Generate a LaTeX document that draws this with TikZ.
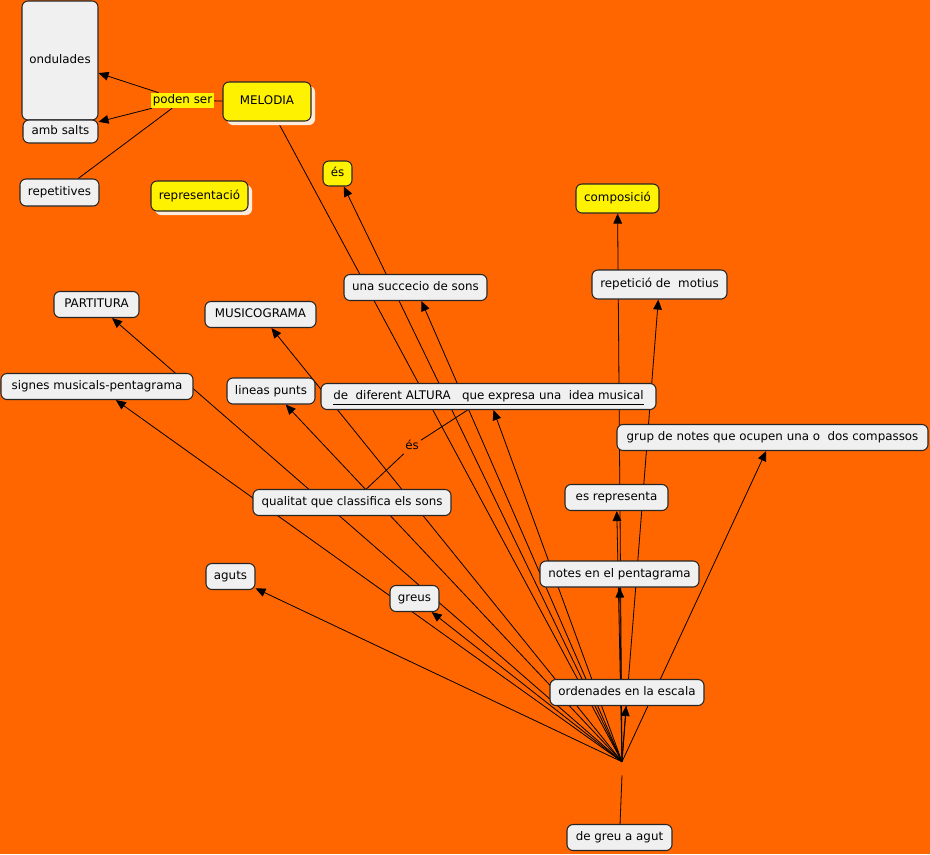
\documentclass[tikz,border=0pt]{standalone}
\usepackage{fontspec}
\setmainfont{DejaVu Sans}
\usetikzlibrary{arrows.meta, shadows}
\definecolor{mapbg}{HTML}{FF6600}
\definecolor{conceptfill}{HTML}{F0F0F0}
\definecolor{shadecol}{HTML}{FFEBDC}
\pgfdeclarelayer{bg}
\pgfdeclarelayer{links}
\pgfsetlayers{bg,links,main}

\begin{document}
\begin{tikzpicture}[x=0.75pt, y=-0.75pt,
    every node/.style={font=\fontsize{8.9}{10}\selectfont, text height=6.6pt, text depth=1.7pt},
    concept/.style={draw=black!85, line width=0.8pt, fill=conceptfill, rounded corners=4.5pt, minimum height=19.5pt, inner sep=2pt},
    hot/.style={concept, fill=yellow},
    shade/.style={drop shadow={shadow xshift=3pt, shadow yshift=-3pt, fill=shadecol, opacity=1}},
    linkword/.style={inner sep=1.5pt},
    conn/.style={line width=0.6pt},
    arr/.style={conn, -{Triangle[length=7.5pt, width=6.5pt]}}]
        \useasboundingbox (0,0) rectangle (930,854);
        % Background
        \begin{pgfonlayer}{bg}
            \fill[mapbg] (0,0) rectangle (930,854);
        \end{pgfonlayer}
        % Melodia and its shapes
        \node[hot, shade, minimum width=66pt, minimum height=29.25pt] (melodia) at (267,101.5) {MELODIA};
        \node[linkword, fill=yellow] (poden) at (182.5,100.5) {poden ser};
        \node[concept, minimum width=57pt, minimum height=89.25pt] (ondul) at (60,60.5) {ondulades};
        \node[concept, minimum width=56.25pt, minimum height=17.25pt] (ambsalts) at (60.5,131.5) {amb salts};
        \node[concept, minimum width=59.25pt, minimum height=20.25pt] (repet) at (59.5,192.5) {repetitives};
        % Yellow concepts
        \node[hot, shade, minimum width=72.75pt, minimum height=22.5pt] (repres) at (199.5,196) {representació};
        \node[hot, minimum width=21.75pt, minimum height=18.75pt] (esgroc) at (337.5,173.5) {és};
        \node[hot, minimum width=62.25pt, minimum height=21.75pt] (composicio) at (617.5,198.5) {composició};
        % Grey concepts
        \node[concept, minimum width=107.25pt] (succecio) at (415.5,287.5) {una succecio de sons};
        \node[concept, minimum width=101.25pt, minimum height=21.75pt] (repeticio) at (659.5,284.5) {repetició de\ \ motius};
        \node[concept, minimum width=63.75pt] (partitura) at (96.5,304.5) {PARTITURA};
        \node[concept, minimum width=83.25pt] (musicograma) at (260.5,314.5) {MUSICOGRAMA};
        \node[concept, minimum width=144pt] (signes) at (97,386.5) {signes musicals-pentagrama};
        \node[concept, minimum width=66pt] (lineas) at (271,391) {lineas punts};
        \node[concept, minimum width=251.25pt] (altura) at (488.5,396.5) {\underline{de\ \ diferent ALTURA\ \ \ que expresa una\ \ idea musical}};
        \node[concept, minimum width=233.25pt] (grup) at (772.5,437.5) {grup de notes que ocupen una o\ \ dos compassos};
        \node[linkword] (eslink) at (412,446) {és};
        \node[concept, minimum width=148.5pt] (qualitat) at (352,502.5) {qualitat que classifica els sons};
        \node[concept, minimum width=77.25pt] (esrep) at (616.5,497.5) {es representa};
        \node[concept, minimum width=36.75pt] (aguts) at (230.5,576.5) {aguts};
        \node[concept, minimum width=119.25pt] (notes) at (619.5,574) {notes en el pentagrama};
        \node[concept, minimum width=36.75pt] (greus) at (414.5,598.5) {greus};
        \node[concept, minimum width=115.5pt] (ordenades) at (627,692.5) {ordenades en la escala};
        \node[concept, minimum width=78.75pt] (degreu) at (619.5,837.5) {de greu a agut};
        % Empty linking phrase
        \node[inner sep=0, minimum width=1pt, minimum height=9.75pt, text height=0pt, text depth=0pt] (hub) at (622,768.5) {};
        % Links
        \begin{pgfonlayer}{links}
            \draw[conn] (melodia) -- (poden);
            \draw[arr] (poden) -- (ondul);
            \draw[arr] (poden) -- (ambsalts);
            \draw[conn] (poden) -- (repet);
            \draw[conn] (melodia) -- (hub.north);
            \foreach \t in {esgroc, succecio, composicio, repeticio, grup, esrep, notes, ordenades, altura, musicograma, partitura, signes, aguts, greus}
                \draw[arr] (hub.north) -- (\t);
            \draw[arr] (hub.north) -- ([xshift=11pt]lineas.south);
            \draw[conn] (degreu) -- (hub.south);
            \draw[conn] (qualitat) -- (eslink) -- (altura);
        \end{pgfonlayer}
    \end{tikzpicture}
\end{document}
